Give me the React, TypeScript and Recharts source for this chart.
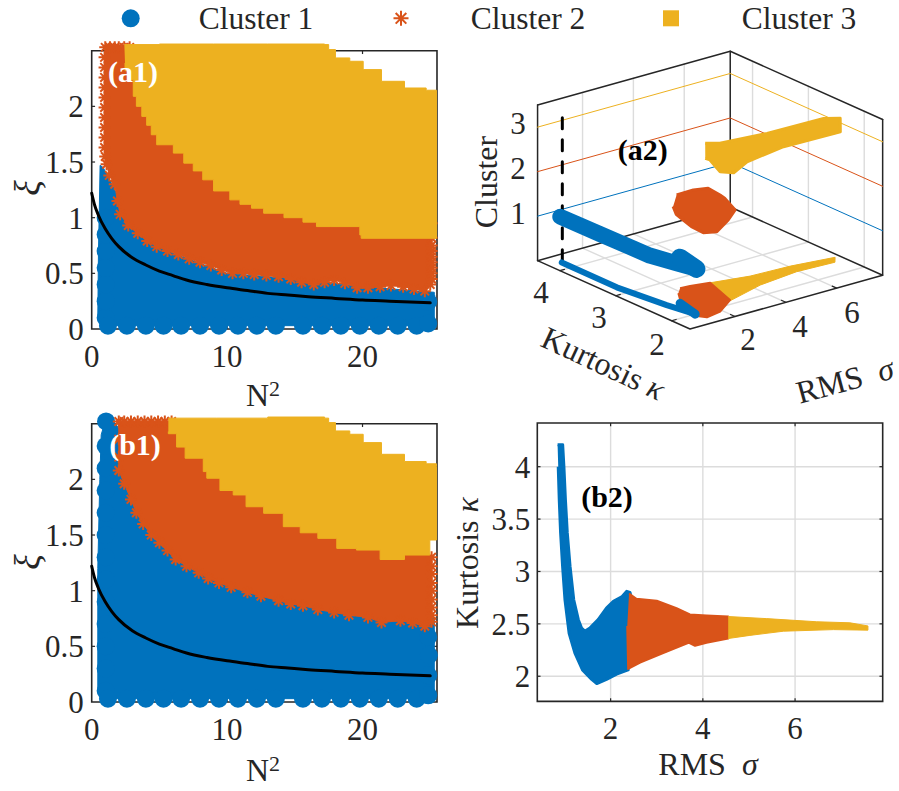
import React from "react";
import { ScatterChart, Scatter, XAxis, YAxis, CartesianGrid, ReferenceLine, ReferenceArea } from "recharts";

const BLUE = "#0072BD";
const ORANGE = "#D95319";
const YELLOW = "#EDB120";
const INK = "#262626";
const SERIF = "'Liberation Serif', 'Times New Roman', serif";

type Pair = number[];

// boundary curve, same in a1 and b1 (N^2, xi)
const curveTop: Pair[] = [[0,1.22],[0.2,1.12],[0.5,1.02],[1,0.9],[1.5,0.81],[2,0.74],[3,0.64],[4,0.575],[5,0.52],[6,0.48],[7,0.44],[8.5,0.4],[10,0.37],[11.5,0.345],[13,0.32],[14.5,0.305],[16,0.29],[18,0.275],[20,0.26],[22,0.25],[25,0.235]];

// panel a1
const a1Yellow: Pair[] = [[2.41,2.555],[5,2.56],[9,2.56],[13,2.56],[17.2,2.555],[17.5,2.51],[18,2.435],[19.06,2.405],[20.05,2.33],[21.4,2.225],[23.1,2.165],[24.7,2.145],[25.46,2.12],[25.46,1.5],[25.46,0.815],[19.9,0.845],[19.8,0.92],[17.6,0.92],[16.6,0.96],[15.6,1.0],[14.2,1.04],[12.7,1.085],[11.8,1.12],[10.95,1.16],[10.2,1.24],[9,1.34],[8.2,1.42],[7.5,1.49],[6.8,1.58],[6.03,1.655],[4.8,1.745],[4.4,1.83],[4.06,1.91],[3.7,2.0],[3.3,2.09],[3.07,2.24],[2.8,2.32],[2.46,2.39]];
const a1Orange: Pair[] = [[1.0,2.53],[0.95,2.44],[0.95,2.35],[0.95,2.26],[0.95,2.17],[0.95,2.08],[0.95,1.99],[0.95,1.9],[0.95,1.81],[0.95,1.72],[0.95,1.63],[1.0,1.55],[1.1,1.48],[1.3,1.38],[1.7,1.3],[1.9,1.15],[2.1,1.03],[2.7,0.93],[3.4,0.86],[4.1,0.79],[4.8,0.74],[5.6,0.7],[6.4,0.67],[7.2,0.63],[8,0.6],[8.8,0.57],[9.6,0.53],[10.4,0.5],[11.2,0.5],[12,0.49],[12.9,0.48],[13.8,0.47],[14.7,0.45],[15.5,0.42],[16.4,0.4],[17.2,0.42],[17.9,0.44],[18.7,0.41],[19.6,0.37],[20.4,0.37],[21.3,0.38],[22.1,0.39],[23,0.38],[23.8,0.36],[24.6,0.34],[25,0.4],[25.1,0.45],[25.1,0.5],[25.1,0.55],[25.1,0.6],[25.1,0.65],[25.1,0.7],[25.1,0.75],[25.1,0.82],[25.1,0.95],[19,1.25],[10,1.7],[5,2.2],[2.8,2.53],[2.4,2.53],[2,2.53],[1.7,2.53],[1.35,2.53]];
const a1Blue: Pair[] = [[0.45,0.1],[0.5,0.7],[0.55,1.0],[0.62,1.47],[0.85,1.45],[1.5,1.3],[3,0.92],[6,0.68],[10,0.5],[15,0.45],[20,0.38],[25.3,0.33],[25.3,0.03],[0.8,0.03]];
const a1BlueDots: Pair[] = [[1.03,0.1],[1.03,0.25],[1.03,0.4],[1.03,0.55],[1.03,0.7],[1.03,0.85],[1.03,1.0],[1.2,0.03],[2.6,0.03],[4,0.03],[5.3,0.03],[6.6,0.03],[8,0.03],[9.4,0.03],[10.8,0.03],[12.2,0.03],[13.6,0.03],[15.6,0.03],[17,0.03],[18.4,0.03],[19.8,0.03],[21.2,0.03],[22.6,0.03],[24,0.03],[24.85,0.05],[24.85,0.245]];

// panel b1
const b1Yellow: Pair[] = [[5.66,2.55],[9.2,2.55],[13,2.56],[17.2,2.55],[17.5,2.51],[18,2.435],[19.06,2.405],[20.05,2.33],[21.4,2.225],[23.1,2.16],[24.7,2.14],[25.46,2.115],[25.46,1.455],[24.97,1.32],[23.1,1.28],[21.3,1.365],[19.55,1.38],[18.1,1.47],[16.7,1.52],[15.4,1.575],[14.15,1.695],[12.7,1.754],[11.4,1.86],[10.45,1.9],[9.47,2.01],[8.5,2.07],[8.24,2.19],[6.9,2.29],[6.27,2.41],[5.66,2.43]];
const b1Orange: Pair[] = [[2,2.52],[2,2.36],[2,2.2],[2,2.08],[2.4,1.96],[2.9,1.82],[3.3,1.7],[3.8,1.6],[4.4,1.5],[5,1.43],[5.6,1.36],[6.2,1.28],[7,1.22],[7.9,1.16],[8.6,1.11],[9.4,1.07],[10.3,1.03],[11.5,0.985],[12.5,0.95],[13.8,0.91],[14.7,0.88],[15.6,0.865],[16.7,0.83],[17.9,0.805],[19,0.78],[20.4,0.76],[21.4,0.715],[22.8,0.73],[23.7,0.71],[24.6,0.68],[25.1,0.72],[25.1,0.78],[25.1,0.85],[25.1,0.92],[25.1,1],[25.1,1.07],[25.1,1.15],[25.1,1.22],[25.1,1.3],[24,1.45],[18,1.7],[12,2.1],[8,2.4],[5.9,2.52],[5.4,2.52],[4.9,2.52],[4.4,2.52],[3.9,2.52],[3.4,2.52],[2.9,2.52],[2.4,2.52]];
const b1Blue: Pair[] = [[0.45,0.1],[0.45,1.2],[0.6,2.0],[0.7,2.4],[1.06,2.55],[1.4,2.55],[2.4,2.4],[2.4,2.0],[4,1.6],[7,1.3],[10,1.15],[15,0.95],[20,0.85],[25.3,0.75],[25.3,0.03],[0.8,0.03]];
const b1BlueDots: Pair[] = [[1.03,0.1],[1.03,0.3],[1.03,0.5],[1.03,0.7],[1.03,0.9],[1.03,1.1],[1.03,1.3],[1.03,1.5],[1.03,1.7],[1.03,1.9],[1.03,2.1],[1.03,2.3],[1.06,2.52],[1.2,0.03],[2.6,0.03],[4,0.03],[5.3,0.03],[6.6,0.03],[8,0.03],[9.4,0.03],[10.8,0.03],[12.2,0.03],[13.6,0.03],[15.6,0.03],[17,0.03],[18.4,0.03],[19.8,0.03],[21.2,0.03],[22.6,0.03],[24,0.03],[24.85,0.06],[24.85,0.24],[24.9,0.42],[24.85,0.585]];

// panel b2 (RMS, kurtosis)
const b2Blue: Pair[] = [[0.85,4.21],[0.96,4.21],[0.987,4.0],[1.02,3.685],[1.06,3.37],[1.12,3.05],[1.2,2.73],[1.3,2.54],[1.37,2.46],[1.44,2.43],[1.55,2.46],[1.73,2.54],[1.91,2.65],[2.06,2.715],[2.24,2.757],[2.35,2.81],[2.42,2.8],[2.46,2.73],[2.38,2.48],[2.38,2.06],[2.13,2.02],[1.91,1.97],[1.7,1.93],[1.59,1.97],[1.39,2.06],[1.226,2.22],[1.1,2.41],[1.01,2.73],[0.958,3.05],[0.915,3.37],[0.886,3.685],[0.864,4.0]];
const b2Orange: Pair[] = [[2.4,2.79],[2.56,2.74],[3.0,2.72],[3.43,2.65],[3.72,2.59],[4.08,2.58],[4.55,2.57],[4.55,2.36],[4.08,2.32],[3.83,2.29],[3.69,2.32],[3.14,2.22],[2.64,2.13],[2.38,2.07],[2.36,2.48]];
const b2Yellow: Pair[] = [[4.55,2.57],[5.38,2.55],[6.47,2.52],[7.19,2.51],[7.58,2.48],[7.58,2.44],[6.83,2.445],[5.75,2.43],[5.02,2.39],[4.55,2.36]];

// panel a2 (RMS, kurtosis) at each cluster height and on the floor
const a2FloorYellow: Pair[] = [[3.22,2.67],[4.55,2.56],[6.07,2.53],[7.63,2.44],[7.36,2.32],[5.92,2.35],[4.31,2.27],[2.73,2.09]];
const a2FloorOrange: Pair[] = [[2.19,2.74],[2.56,2.73],[3.22,2.67],[2.77,2.11],[1.9,1.89],[1.27,1.84],[1.1,1.94],[1.56,2.45],[1.88,2.63]];
const a2FloorBlue: Pair[] = [[0.72,4.19],[0.71,3.2],[0.96,2.42],[1.16,2.0]];
const a2FloorBlueEnd: Pair[] = [[1.38,2.37],[1.16,2.0]];
const a2Cluster1: Pair[] = [[0.75,4.23],[0.78,3.53],[0.82,2.66],[1.05,2.28],[1.23,2.01]];
const a2Cluster1End: Pair[] = [[1.44,2.4],[1.23,2.01]];
const a2Cluster2: Pair[] = [[2.34,2.87],[3.02,2.88],[3.47,2.82],[3.39,2.57],[3.33,2.46],[2.95,2.1],[2.24,1.9],[1.33,1.69],[0.95,1.76],[0.99,1.99],[1.15,2.21],[1.29,2.4],[1.63,2.61]];
const a2Cluster3: Pair[] = [[3.42,2.85],[3.78,2.75],[5.46,2.67],[7.64,2.65],[8.05,2.54],[7.33,2.21],[5.14,2.23],[3.44,2.11],[2.52,1.93],[2.25,2.05],[2.64,2.41],[2.61,2.48]];

const n2Ticks = [0, 10, 20];
const xiTicks = [0, 0.5, 1, 1.5, 2];
const rmsTicks = [2, 4, 6];
const kurtTicks = [2, 2.5, 3, 3.5, 4];
const a2KurtTicks = [2, 3, 4];
const clusterLevels = [1, 2, 3];
const clusterColors = [BLUE, ORANGE, YELLOW];
const legendNames = ["Cluster 1", "Cluster 2", "Cluster 3"];

const toPoints = (list: Pair[]) => list.map(([x, y]) => ({ x, y }));
const noMark = () => <g />;

const dotMark = (r: number, color: string) => (p: any) => <circle cx={p.cx} cy={p.cy} r={r} fill={color} />;
const starMark = (r: number, color: string) => (p: any) => {
  const d = r * 0.71;
  return (
    <path
      d={`M${p.cx - r} ${p.cy}H${p.cx + r}M${p.cx} ${p.cy - r}V${p.cy + r}M${p.cx - d} ${p.cy - d}L${p.cx + d} ${p.cy + d}M${p.cx - d} ${p.cy + d}L${p.cx + d} ${p.cy - d}`}
      stroke={color}
      strokeWidth={2}
      fill="none"
    />
  );
};

// filled outline, optionally stepped, with a marker on each vertex
const region = (key: string, list: Pair[], color: string, shape: any = noMark, joint: string = "linear", edge = 1) => (
  <Scatter
    key={key}
    data={toPoints(list)}
    fill={color}
    shape={shape}
    isAnimationActive={false}
    lineJointType={joint as any}
    line={{ fill: color, stroke: color, strokeWidth: edge, strokeLinejoin: "round" } as any}
  />
);

const stroke = (key: string, list: Pair[], color: string, width: number, dash?: string, joint: string = "linear") => (
  <Scatter
    key={key}
    data={toPoints(list)}
    fill={color}
    shape={noMark}
    isAnimationActive={false}
    lineJointType={joint as any}
    line={{ fill: "none", stroke: color, strokeWidth: width, strokeDasharray: dash, strokeLinecap: "round", strokeLinejoin: "round" } as any}
  />
);

// box round the axes and the short inward ticks MATLAB draws on all four sides
const boxAndTicks = (xs: number[], ys: number[], x0: number, x1: number, y0: number, y1: number, tx: number, ty: number) => {
  const seg = { stroke: INK, strokeWidth: 1.2, ifOverflow: "visible" as const };
  return [
    <ReferenceArea key="box" x1={x0} x2={x1} y1={y0} y2={y1} fill="none" stroke={INK} strokeWidth={1.6} ifOverflow="visible" />,
    ...xs.flatMap((t) => [
      <ReferenceLine key={`xb${t}`} {...seg} segment={[{ x: t, y: y0 }, { x: t, y: y0 + ty }]} />,
      <ReferenceLine key={`xt${t}`} {...seg} segment={[{ x: t, y: y1 }, { x: t, y: y1 - ty }]} />,
    ]),
    ...ys.flatMap((t) => [
      <ReferenceLine key={`yl${t}`} {...seg} segment={[{ x: x0, y: t }, { x: x0 + tx, y: t }]} />,
      <ReferenceLine key={`yr${t}`} {...seg} segment={[{ x: x1, y: t }, { x: x1 - tx, y: t }]} />,
    ]),
  ];
};

const tickStyle = { fontFamily: SERIF, fontSize: 31, fill: INK };

const Caption = ({ x, y, angle = 0, size = 32, color = INK, weight = "normal", children }: any) => (
  <div
    style={{
      position: "absolute",
      left: x,
      top: y,
      transform: `translate(-50%, -50%) rotate(${angle}deg)`,
      fontFamily: SERIF,
      fontSize: size,
      fontWeight: weight,
      color,
      whiteSpace: "pre",
      lineHeight: 0.8,
    }}
  >
    {children}
  </div>
);

const MapPanel = ({ top, blue, dots, orange, yellow }: any) => (
  <div style={{ position: "absolute", left: 30, top }}>
    <ScatterChart width={430} height={359} margin={{ top: 5.7, right: 8, bottom: 0, left: 0 }}>
      <XAxis
        type="number"
        dataKey="x"
        domain={[0, 26.608]}
        ticks={n2Ticks}
        interval={0}
        height={45}
        axisLine={false}
        tickLine={false}
        tickSize={0}
        tickMargin={1}
        tick={tickStyle}
      />
      <YAxis
        type="number"
        dataKey="y"
        domain={[-0.1347, 2.6347]}
        ticks={xiTicks}
        interval={0}
        width={61.7}
        axisLine={false}
        tickLine={false}
        tickSize={0}
        tickMargin={8}
        tick={tickStyle}
      />
      {boxAndTicks(n2Ticks.slice(1), xiTicks.slice(1), 0, 25.5, 0, 2.5, 0.25, 0.03)}
      {region("blue", blue, BLUE)}
      <Scatter data={toPoints(dots)} shape={dotMark(9, BLUE)} isAnimationActive={false} />
      {region("orange", orange, ORANGE, starMark(6, ORANGE))}
      {region("yellow", yellow, YELLOW, noMark, "stepAfter")}
      {stroke("curve", curveTop, "#000000", 3, undefined, "monotoneX")}
    </ScatterChart>
  </div>
);

// axes limits of the 3D box and its on-screen projection
const SIG0 = 0.23;
const SIG1 = 7.81;
const KAP0 = 1.67;
const KAP1 = 4.4;
const ZTOP = 3.5;
const project = (sig: number, kap: number, z: number): Pair => {
  const s = sig - SIG0;
  const k = kap - KAP0;
  return [450 + (720 + 76.25 * s - 167.5 * k) / 3, 30 + (897 - 21.25 * s - 75.1 * k - 133.5 * z) / 3];
};
const at = (z: number, list: Pair[]) => list.map(([s, k]) => project(s, k, z));

const Panel3D = () => {
  const grid: any[] = [];
  rmsTicks.forEach((s) => {
    grid.push(stroke(`fs${s}`, [project(s, KAP0, 0), project(s, KAP1, 0)], "#dcdcdc", 1.4));
    grid.push(stroke(`ws${s}`, [project(s, KAP1, 0), project(s, KAP1, ZTOP)], "#dcdcdc", 1.4));
  });
  a2KurtTicks.forEach((k) => {
    grid.push(stroke(`fk${k}`, [project(SIG0, k, 0), project(SIG1, k, 0)], "#dcdcdc", 1.4));
    grid.push(stroke(`wk${k}`, [project(SIG1, k, 0), project(SIG1, k, ZTOP)], "#dcdcdc", 1.4));
  });
  const levels = clusterLevels.map((z, i) =>
    stroke(`lv${z}`, [project(SIG0, KAP1, z), project(SIG1, KAP1, z), project(SIG1, KAP0, z)], clusterColors[i], 1)
  );
  const edges = [
    stroke("e1", [project(SIG0, KAP1, ZTOP), project(SIG0, KAP1, 0), project(SIG0, KAP0, 0), project(SIG1, KAP0, 0), project(SIG1, KAP0, ZTOP)], INK, 1.5),
    stroke("e2", [project(SIG0, KAP1, ZTOP), project(SIG1, KAP1, ZTOP), project(SIG1, KAP0, ZTOP)], INK, 1.5),
    stroke("e3", [project(SIG0, KAP1, 0), project(SIG1, KAP1, 0), project(SIG1, KAP0, 0)], INK, 1.5),
    stroke("e4", [project(SIG1, KAP1, 0), project(SIG1, KAP1, ZTOP)], INK, 1.5),
  ];
  const ticks = [
    ...rmsTicks.map((s) => stroke(`ts${s}`, [project(s, KAP0, 0), project(s, KAP0 + 0.08, 0)], INK, 1.2)),
    ...a2KurtTicks.map((k) => stroke(`tk${k}`, [project(SIG0, k, 0), project(SIG0 + 0.18, k, 0)], INK, 1.2)),
  ];
  return (
    <div style={{ position: "absolute", left: 450, top: 30 }}>
      <ScatterChart width={449} height={380} margin={{ top: 0, right: 0, bottom: 0, left: 0 }}>
        <XAxis hide type="number" dataKey="x" domain={[450, 899]} />
        <YAxis hide type="number" dataKey="y" domain={[30, 410]} reversed />
        {grid}
        {edges}
        {ticks}
        {levels}
        {stroke("dash", [project(0.83, 4.23, 0), project(0.83, 4.23, 3.45)], "#000000", 3, "11 11")}
        {region("fy", at(0, a2FloorYellow), YELLOW, noMark, "linear", 1)}
        {region("fo", at(0, a2FloorOrange), ORANGE, noMark, "linear", 2)}
        {stroke("fb", at(0, a2FloorBlue), BLUE, 6)}
        {stroke("fbe", at(0, a2FloorBlueEnd), BLUE, 9)}
        {stroke("c1", at(1, a2Cluster1), BLUE, 16)}
        {stroke("c1e", at(1, a2Cluster1End), BLUE, 18)}
        {region("c2", at(2, a2Cluster2), ORANGE, noMark, "linear", 3)}
        {region("c3", at(3, a2Cluster3), YELLOW, noMark, "linear", 3)}
      </ScatterChart>
    </div>
  );
};

const PhasePanel = () => (
  <div style={{ position: "absolute", left: 480, top: 418.3 }}>
    <ScatterChart width={407.7} height={328.4} margin={{ top: 5, right: 5, bottom: 0, left: 0 }}>
      <CartesianGrid stroke="#dcdcdc" strokeWidth={1.4} horizontalValues={kurtTicks} verticalValues={rmsTicks} />
      <XAxis
        type="number"
        dataKey="x"
        domain={[0.41, 7.9]}
        ticks={rmsTicks}
        interval={0}
        height={45}
        axisLine={false}
        tickLine={false}
        tickSize={0}
        tickMargin={16}
        tick={tickStyle}
      />
      <YAxis
        type="number"
        dataKey="y"
        domain={[1.76, 4.417]}
        ticks={kurtTicks}
        interval={0}
        width={57.3}
        axisLine={false}
        tickLine={false}
        tickSize={0}
        tickMargin={7}
        tick={tickStyle}
      />
      {boxAndTicks(rmsTicks, kurtTicks, 0.41, 7.9, 1.76, 4.417, 0.07, 0.03)}
      {region("blue", b2Blue, BLUE, noMark, "linear", 3)}
      {region("orange", b2Orange, ORANGE, noMark, "linear", 2)}
      {region("yellow", b2Yellow, YELLOW, noMark, "linear", 1)}
    </ScatterChart>
  </div>
);

const LegendRow = () => {
  const xs = [130.7, 401, 671];
  const textXs = [256, 528, 799];
  return (
    <>
      <svg width={899} height={40} style={{ position: "absolute", left: 0, top: 0 }}>
        <circle cx={xs[0]} cy={18.3} r={9} fill={BLUE} />
        {starMark(7.5, ORANGE)({ cx: xs[1], cy: 18.3 })}
        <rect x={xs[2] - 8} y={10.3} width={16} height={16} fill={YELLOW} />
      </svg>
      {legendNames.map((name, i) => (
        <Caption key={name} x={textXs[i]} y={19} size={31.5}>
          {name}
        </Caption>
      ))}
    </>
  );
};

const nSquared = (
  <span>
    N<sup style={{ fontSize: 22, lineHeight: 0, verticalAlign: "10px" }}>2</sup>
  </span>
);

export default function App() {
  return (
    <div style={{ position: "absolute", left: 0, top: 0, width: 899, height: 791, background: "#fff", overflow: "hidden" }}>
      <MapPanel top={30} blue={a1Blue} dots={a1BlueDots} orange={a1Orange} yellow={a1Yellow} />
      <MapPanel top={402.6} blue={b1Blue} dots={b1BlueDots} orange={b1Orange} yellow={b1Yellow} />
      <Panel3D />
      <PhasePanel />
      <LegendRow />

      <Caption x={133} y={72} size={30} color="#fff" weight="bold">(a1)</Caption>
      <Caption x={135} y={445} size={30} color="#fff" weight="bold">(b1)</Caption>
      <Caption x={642.7} y={150} size={30} color="#000" weight="bold">(a2)</Caption>
      <Caption x={607} y={497} size={30} color="#000" weight="bold">(b2)</Caption>

      <Caption x={263} y={396}>{nSquared}</Caption>
      <Caption x={263} y={771}>{nSquared}</Caption>
      <Caption x={27} y={188} angle={-90} size={36}><i>ξ</i></Caption>
      <Caption x={27} y={562} angle={-90} size={36}><i>ξ</i></Caption>
      <Caption x={468} y={563} angle={-90}>Kurtosis <i>κ</i></Caption>
      <Caption x={708} y={765}>RMS  <i>σ</i></Caption>

      <Caption x={487} y={182} angle={-90}>Cluster</Caption>
      <Caption x={603} y={364} angle={25}>Kurtosis <i>κ</i></Caption>
      <Caption x={845} y={381} angle={-15}>RMS  <i>σ</i></Caption>
      <Caption x={518} y={214} size={31}>1</Caption>
      <Caption x={518} y={169} size={31}>2</Caption>
      <Caption x={518} y={124} size={31}>3</Caption>
      <Caption x={541} y={293} size={31}>4</Caption>
      <Caption x={599} y={318} size={31}>3</Caption>
      <Caption x={657} y={345} size={31}>2</Caption>
      <Caption x={748} y={340} size={31}>2</Caption>
      <Caption x={800} y={327} size={31}>4</Caption>
      <Caption x={852} y={313} size={31}>6</Caption>
    </div>
  );
}
